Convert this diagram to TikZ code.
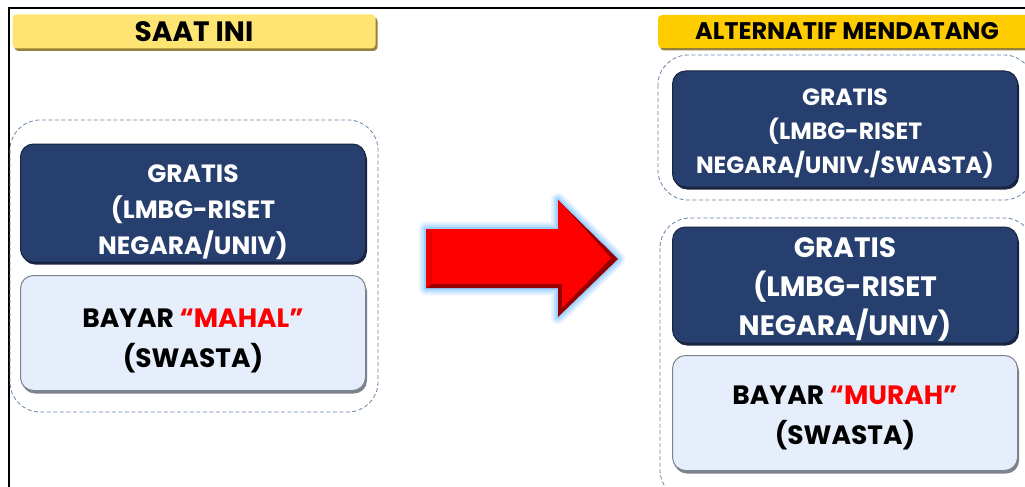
\documentclass[tikz,border=0pt]{standalone}
\usepackage{fontspec}
\setmainfont{Poppins}
\usetikzlibrary{shadows}

\begin{document}
\begin{tikzpicture}[x=1pt,y=-1pt,
    headbar/.style={shape=rectangle,rounded corners=4pt,inner sep=0pt},
    darkbox/.style={shape=rectangle,rounded corners=13pt,inner sep=0pt,minimum width=345pt,fill=navyface,draw=navyedge,line width=1pt,
        drop shadow={shadow xshift=1.5pt,shadow yshift=-2.5pt,fill=navyedge,opacity=1}},
    lightbox/.style={shape=rectangle,rounded corners=13pt,inner sep=0pt,minimum width=345pt,minimum height=115pt,fill=paleface,draw=greyedge,line width=1pt,
        drop shadow={shadow xshift=1.5pt,shadow yshift=-3pt,fill=greyedge,opacity=1}},
    boxtext/.style={align=center,inner sep=0pt},
    dashbox/.style={draw=dashblue,line width=0.8pt,dash pattern=on 4pt off 2.5pt,rounded corners=30pt}]
    \definecolor{navyface}{RGB}{38,63,110}
    \definecolor{navyedge}{RGB}{24,36,64}
    \definecolor{paleface}{RGB}{230,238,251}
    \definecolor{greyedge}{RGB}{125,131,140}
    \definecolor{dashblue}{RGB}{105,132,168}
    \definecolor{sunA}{RGB}{253,228,115}
    \definecolor{sunB}{RGB}{255,204,0}
    \definecolor{sunedge}{RGB}{150,128,60}
    \definecolor{glowblue}{RGB}{150,205,255}
    \definecolor{darkred}{RGB}{150,0,0}
    \useasboundingbox (0,0) rectangle (1025,487);
    \fill[white] (0,0) rectangle (1025,487);
    % frame
    \draw[line width=2pt] (9,487) -- (9,8) -- (1025,8);
    % headers
    \node[headbar,fill=sunA,minimum width=363pt,minimum height=34pt,font=\bfseries\fontsize{28}{28}\selectfont,drop shadow={shadow xshift=2pt,shadow yshift=-2.5pt,fill=sunedge,opacity=1}] (saatini) at (194,31.5) {SAAT INI};
    \node[headbar,fill=sunB,minimum width=378pt,minimum height=33pt,font=\bfseries\fontsize{24}{24}\selectfont,drop shadow={shadow xshift=2pt,shadow yshift=-2.5pt,fill=sunedge,opacity=1}] (alternatif) at (847,31.5) {ALTERNATIF MENDATANG};
    % dashed groups
    \draw[dashbox] (10,120) rectangle (378,412);
    \draw[dashbox] (658,55) rectangle (1034,200);
    \draw[dashbox] (660,218) rectangle (1034,500);
    % left side
    \node[darkbox,minimum height=118pt] (gratisL) at (193,203) {};
    \node[boxtext,text=white,font=\bfseries\fontsize{25}{36}\selectfont] at ([yshift=-9pt]gratisL.center) {GRATIS\\(LMBG-RISET\\NEGARA/UNIV)};
    \node[lightbox] (bayarL) at (193,333) {};
    \node[boxtext,font=\bfseries\fontsize{26.5}{40}\selectfont] at ([yshift=-8pt]bayarL.center) {BAYAR \textcolor{red}{“MAHAL”}\\(SWASTA)};
    % right side
    \node[darkbox,minimum height=116pt] (gratisR) at (845,129) {};
    \node[boxtext,text=white,font=\bfseries\fontsize{23.5}{34}\selectfont] at ([yshift=-5pt]gratisR.center) {GRATIS\\(LMBG-RISET\\NEGARA/UNIV./SWASTA)};
    \node[darkbox,minimum height=116pt] (gratisR2) at (845,285) {};
    \node[boxtext,text=white,font=\bfseries\fontsize{28}{39}\selectfont] at ([yshift=-4pt]gratisR2.center) {GRATIS\\(LMBG-RISET\\NEGARA/UNIV)};
    \node[lightbox] (bayarR) at (845,413) {};
    \node[boxtext,font=\bfseries\fontsize{26.5}{40}\selectfont] at ([yshift=-5pt]bayarR.center) {BAYAR \textcolor{red}{“MURAH”}\\(SWASTA)};
    % arrow
    \draw[glowblue,line width=14pt,line join=round,opacity=0.25] (426,229) -- (558,229) -- (558,200) -- (618,259) -- (558,317) -- (558,288) -- (426,288) -- cycle;
    \draw[glowblue,line width=9pt,line join=round,opacity=0.45] (426,229) -- (558,229) -- (558,200) -- (618,259) -- (558,317) -- (558,288) -- (426,288) -- cycle;
    \draw[glowblue,line width=4pt,line join=round,opacity=0.8] (426,229) -- (558,229) -- (558,200) -- (618,259) -- (558,317) -- (558,288) -- (426,288) -- cycle;
    \fill[darkred] (426,229) -- (558,229) -- (558,200) -- (618,259) -- (558,317) -- (558,288) -- (426,288) -- cycle;
    \fill[red!92!black] (426,229) -- (432,229) -- (432,284) -- (426,288) -- cycle;
    \fill[red] (432,229) -- (558,229) -- (558,200) -- (611,258) -- (562,308) -- (562,284) -- (432,284) -- cycle;
\end{tikzpicture}
\end{document}
